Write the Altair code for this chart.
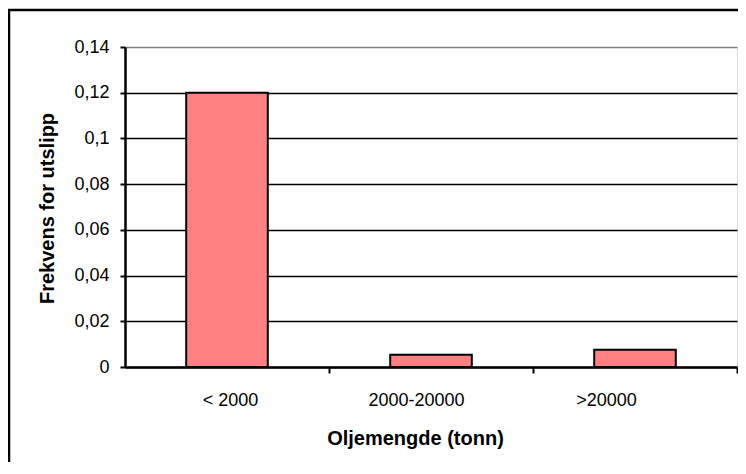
import altair as alt
import pandas as pd

categories = ["< 2000", "2000-20000", ">20000"]
values = [0.12, 0.0054, 0.0076]
y_ticks = [0, 0.02, 0.04, 0.06, 0.08, 0.10, 0.12, 0.14]

df = pd.DataFrame({"cat": categories, "val": values})
frame_df = pd.DataFrame({"a": [0]})

FONT = "Liberation Sans"
W, H = 612, 320
STEP = W / 3.0
HALF = STEP / 2.0

bars = alt.Chart(df).mark_bar(color="#FF8080", stroke="black", strokeWidth=2).encode(
    x=alt.X(
        "cat:N",
        sort=categories,
        scale=alt.Scale(paddingInner=0.6, paddingOuter=0.3),
        axis=alt.Axis(
            title="Oljemengde (tonn)",
            labelAngle=0,
            tickOffset=HALF,
            tickSize=6,
            tickWidth=2,
            tickColor="black",
            domainColor="black",
            domainWidth=2.5,
            labelFont=FONT,
            labelFontSize=18,
            labelColor="black",
            labelPadding=18,
            labelBaseline="top",
            labelOffset={
                "condition": [
                    {"test": "datum.value === '2000-20000'", "value": -15 - HALF},
                    {"test": "datum.value === '>20000'", "value": -29 - HALF},
                ],
                "value": 3 - HALF,
            },
            titleFont=FONT,
            titleFontSize=20,
            titleFontWeight="bold",
            titleColor="black",
            titleX=290,
            titleY=77,
            titleBaseline="alphabetic",
            titleAlign="center",
            grid=False,
        ),
    ),
    y=alt.Y(
        "val:Q",
        scale=alt.Scale(domain=[0, 0.14], nice=False),
        axis=alt.Axis(
            title="Frekvens for utslipp",
            values=y_ticks,
            labelExpr="replace(format(datum.value, '.2~f'), '.', ',')",
            tickSize=5,
            tickWidth=2,
            tickColor="black",
            domainColor="black",
            domainWidth=2.5,
            labelFont=FONT,
            labelFontSize=18,
            labelColor="black",
            labelPadding=11,
            grid=True,
            gridColor={"condition": {"test": "datum.value >= 0.139", "value": "#808080"}, "value": "black"},
            gridWidth=1.5,
            titleFont=FONT,
            titleFontSize=20,
            titleFontWeight="bold",
            titleColor="black",
            titleAngle=-90,
            titleX=-72,
            titleY=161,
            titleBaseline="alphabetic",
            titleAlign="center",
        ),
    ),
)

frame_left = alt.Chart(frame_df).mark_rule(stroke="black", strokeWidth=2.5).encode(
    x=alt.value(-116),
    y=alt.value(-37),
    y2=alt.value(H + 200),
)
frame_top = alt.Chart(frame_df).mark_rule(stroke="black", strokeWidth=2.5).encode(
    x=alt.value(-117),
    x2=alt.value(W + 60),
    y=alt.value(-37),
)

chart = alt.layer(frame_left, frame_top, bars).properties(
    width=W,
    height=H,
    autosize=alt.AutoSizeParams(type="none"),
    padding={"left": 117, "top": 39, "right": 1, "bottom": 95},
).configure_view(
    stroke="#808080",
    strokeWidth=2.3,
).configure(background="white")

chart.save("out.html", embed_options={"renderer": "svg", "actions": False})
